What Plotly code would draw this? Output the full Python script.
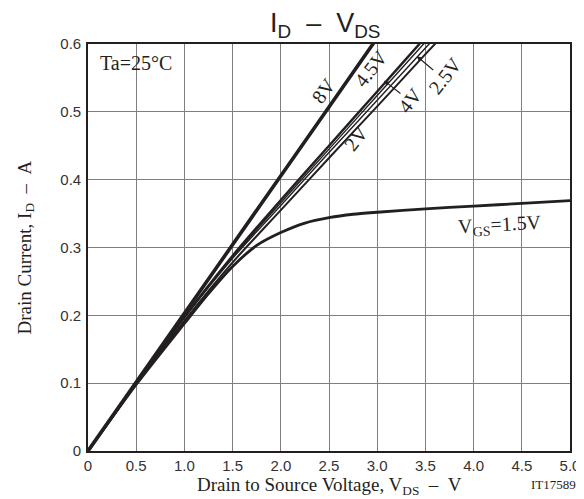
import plotly.graph_objects as go

# ---- data ----
v_grid = [0, 0.5, 1.0, 1.5, 2.0, 2.5, 3.0, 3.5, 4.0]
i_8v   = [0, 0.101, 0.203, 0.304, 0.406, 0.507, 0.609, 0.710, 0.812]
i_4p5v = [0, 0.100, 0.198, 0.288, 0.370, 0.450, 0.530, 0.610, 0.690]
i_4v   = [0, 0.100, 0.197, 0.286, 0.366, 0.445, 0.524, 0.603, 0.682]
i_2p5v = [0, 0.100, 0.196, 0.284, 0.362, 0.440, 0.517, 0.594, 0.671]
i_2v   = [0, 0.099, 0.192, 0.278, 0.355, 0.432, 0.508, 0.585, 0.660]

v_15 = [0, 0.5, 1.0, 1.25, 1.5, 1.75, 2.0, 2.25, 2.5, 2.75, 3.0, 3.5, 4.0, 4.5, 5.0]
i_15 = [0, 0.098, 0.188, 0.232, 0.272, 0.303, 0.322, 0.336, 0.344, 0.349, 0.352, 0.357, 0.361, 0.365, 0.369]

x_ticks = [0, 0.5, 1.0, 1.5, 2.0, 2.5, 3.0, 3.5, 4.0, 4.5, 5.0]
x_tick_text = ["0", "0.5", "1.0", "1.5", "2.0", "2.5", "3.0", "3.5", "4.0", "4.5", "5.0"]
y_ticks = [0, 0.1, 0.2, 0.3, 0.4, 0.5, 0.6]
y_tick_text = ["0", "0.1", "0.2", "0.3", "0.4", "0.5", "0.6"]

INK = "#231f20"
SERIF = "Liberation Serif, Times New Roman, serif"
SANS = "Liberation Sans, Arial, sans-serif"
SP = "\u00a0\u00a0"

fig = go.Figure()

def add_line(x, y, w, shape="spline"):
    fig.add_trace(go.Scatter(x=x, y=y, mode="lines",
                             line=dict(color=INK, width=w, shape=shape, smoothing=0.8),
                             showlegend=False, hoverinfo="skip"))

add_line(v_grid, i_2v, 2.0)
add_line(v_grid, i_2p5v, 1.4)
add_line(v_grid, i_4v, 1.4)
add_line(v_grid, i_4p5v, 2.4)
add_line(v_grid, i_8v, 3.6, shape="linear")
add_line(v_15, i_15, 2.8)

ann = []
def label(x, y, text, angle=0, size=20):
    ann.append(dict(x=x, y=y, xref="x", yref="y", text=text, showarrow=False,
                    textangle=angle, font=dict(family=SERIF, size=size, color=INK)))

label(2.44, 0.531, "8V", -54)
label(2.94, 0.564, "4.5V", -52)
label(2.78, 0.462, "2V", -52)
label(3.34, 0.518, "4V", -52)
label(3.70, 0.553, "2.5V", -52)
label(4.27, 0.332, "V<sub>GS</sub>=1.5V", -3)
ann.append(dict(x=0.10, y=0.572, xref="x", yref="y", text="Ta=25°C", showarrow=False,
                xanchor="left", font=dict(family=SERIF, size=20, color=INK)))

# pointer arrows
ann.append(dict(x=3.41, y=0.582, xref="x", yref="y", ax=18, ay=15, text="",
                showarrow=True, arrowhead=2, arrowsize=0.9, arrowwidth=1.1, arrowcolor=INK))
ann.append(dict(x=3.07, y=0.546, xref="x", yref="y", ax=18, ay=14, text="",
                showarrow=True, arrowhead=2, arrowsize=0.9, arrowwidth=1.1, arrowcolor=INK))

# title
ann.append(dict(x=0.5, y=1.0, xref="paper", yref="paper", yanchor="middle", yshift=19,
                xshift=-4, text="I<sub>D</sub>" + SP + "–" + SP + "V<sub>DS</sub>",
                showarrow=False, font=dict(family=SANS, size=27, color=INK)))
# axis titles
ann.append(dict(x=0.5, y=0, xref="paper", yref="paper", yanchor="middle", yshift=-35,
                text="Drain to Source Voltage, V<sub>DS</sub>" + SP + "–" + SP + "V",
                showarrow=False, font=dict(family=SERIF, size=19, color=INK)))
ann.append(dict(x=0, y=0.5, xref="paper", yref="paper", xanchor="center", xshift=-63,
                textangle=-90,
                text="Drain Current, I<sub>D</sub>" + SP + "–" + SP + "A",
                showarrow=False, font=dict(family=SERIF, size=19, color=INK)))
# code
ann.append(dict(x=1.0, y=0, xref="paper", yref="paper", xanchor="right", yanchor="middle",
                yshift=-33, xshift=8, text="IT17589", showarrow=False,
                font=dict(family=SERIF, size=13, color=INK)))

fig.update_layout(
    width=584, height=499,
    margin=dict(l=80, r=12, t=36, b=56),
    paper_bgcolor="white", plot_bgcolor="white",
    annotations=ann,
    xaxis=dict(range=[0, 5], tickvals=x_ticks, ticktext=x_tick_text,
               showgrid=True, gridcolor="#7f7f7f", gridwidth=1.2,
               showline=True, linecolor=INK, linewidth=1.6, mirror=True,
               ticks="", zeroline=False, ticklabelstandoff=0,
               tickfont=dict(family=SANS, size=15, color="#333333")),
    yaxis=dict(range=[0, 0.6], tickvals=y_ticks, ticktext=y_tick_text,
               showgrid=True, gridcolor="#7f7f7f", gridwidth=1.2,
               showline=True, linecolor=INK, linewidth=1.6, mirror=True,
               ticks="", zeroline=False, ticklabelstandoff=2,
               tickfont=dict(family=SANS, size=15, color="#333333")),
)

fig.write_html("out.html")
